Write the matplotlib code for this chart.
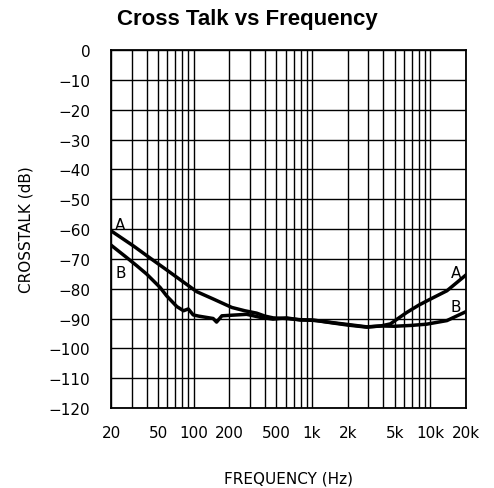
import matplotlib
matplotlib.use("Agg")
import matplotlib.pyplot as plt
from matplotlib.ticker import FixedLocator, LogLocator, NullFormatter

# Channel A crosstalk
freq_a = [20, 31, 43, 59, 82, 106, 147, 210, 270, 340, 400, 470, 600, 800,
          1100, 1500, 2000, 2900, 3800, 4600, 5200, 6300, 8000, 10000, 13800, 20000]
db_a = [-60.6, -65.7, -69.8, -73.7, -77.8, -81.0, -83.5, -86.3, -87.4, -88.2,
        -89.2, -89.8, -90.0, -90.4, -90.7, -91.4, -92.0, -92.8, -92.5, -91.8,
        -90.3, -88.0, -85.5, -83.5, -80.7, -75.4]

# Channel B crosstalk
freq_b = [20, 27, 33, 40, 52, 59, 72, 82, 90, 99, 110, 146, 156, 173, 280, 364,
          468, 611, 792, 1000, 1500, 2000, 2900, 3800, 5000, 7000, 9300, 13800, 20000]
db_b = [-65.4, -69.5, -72.3, -75.1, -79.6, -82.4, -86.0, -87.4, -86.8, -88.8,
        -89.2, -90.0, -91.2, -89.1, -88.6, -89.6, -90.2, -89.8, -90.5, -90.5,
        -91.5, -92.2, -92.9, -92.5, -92.6, -92.3, -91.9, -90.7, -87.7]

x_ticks = [20, 50, 100, 200, 500, 1000, 2000, 5000, 10000, 20000]
x_tick_labels = ["20", "50", "100", "200", "500", "1k", "2k", "5k", "10k", "20k"]
y_ticks = list(range(0, -130, -10))
y_tick_labels = ["0"] + ["\u2212" + str(-v) for v in y_ticks[1:]]

plt.rcParams["font.family"] = ["DejaVu Sans"]

fig = plt.figure(figsize=(4.94, 4.89), dpi=100)
ax = fig.add_axes([0.2247, 0.1636, 0.7186, 0.7321])

ax.set_xscale("log")
ax.set_xlim(20, 20000)
ax.set_ylim(-120, 0)

# Grid: every decade subdivision and every 10 dB
ax.xaxis.set_major_locator(FixedLocator(x_ticks))
ax.xaxis.set_minor_locator(LogLocator(base=10, subs=range(1, 10)))
ax.xaxis.set_minor_formatter(NullFormatter())
ax.set_xticks(x_ticks)
ax.set_xticklabels(x_tick_labels)
ax.set_yticks(y_ticks)
ax.set_yticklabels(y_tick_labels)
ax.grid(True, which="both", axis="x", color="black", linewidth=1.0)
ax.grid(True, which="major", axis="y", color="black", linewidth=1.0)
ax.tick_params(which="both", length=0)
ax.tick_params(axis="x", pad=12, labelsize=11)
ax.tick_params(axis="y", pad=15, labelsize=11)
for s in ax.spines.values():
    s.set_linewidth(1.3)
    s.set_color("black")

ax.plot(freq_a, db_a, color="black", linewidth=2.5, solid_joinstyle="round")
ax.plot(freq_b, db_b, color="black", linewidth=2.5, solid_joinstyle="round")

# Curve identifiers
ax.text(24, -58.5, "A", fontsize=11, ha="center", va="center")
ax.text(24, -74.5, "B", fontsize=11, ha="center", va="center")
ax.text(16500, -74.5, "A", fontsize=11, ha="center", va="center")
ax.text(16500, -86.0, "B", fontsize=11, ha="center", va="center")

ax.set_xlabel("FREQUENCY (Hz)", fontsize=11, labelpad=22)
ax.set_ylabel("CROSSTALK (dB)", fontsize=11, labelpad=11)
fig.text(0.5, 0.961, "Cross Talk vs Frequency", ha="center", va="center",
         fontsize=16, fontweight="bold", family="Liberation Sans")

fig.savefig("out.png", dpi=100)
